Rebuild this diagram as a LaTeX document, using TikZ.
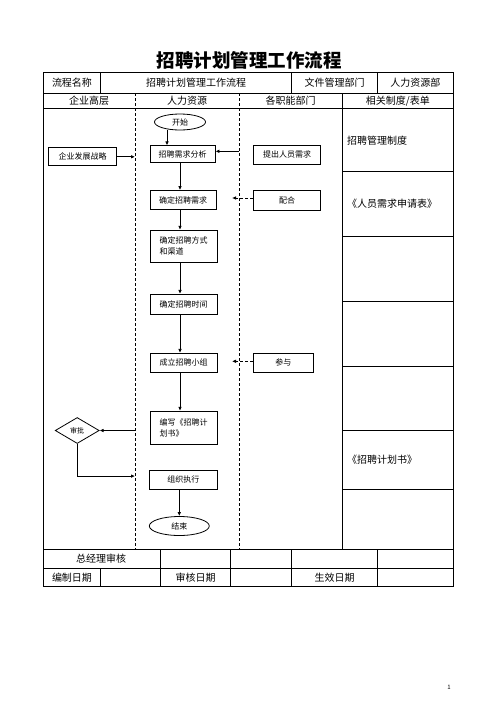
\documentclass[tikz,border=0pt]{standalone}
\usepackage{fontspec}
\setmainfont{Noto Sans CJK SC}
\usetikzlibrary{shapes.geometric,arrows.meta}
\tikzset{
	cell/.style={inner sep=0pt, font=\fontsize{10}{12}\selectfont},
	flowbox/.style={draw, line width=0.8pt, rectangle, inner sep=1pt, minimum width=67pt, minimum height=19pt, font=\fontsize{8}{11}\selectfont},
	flowend/.style={draw, line width=0.8pt, ellipse, inner sep=0pt, font=\fontsize{8}{10}\selectfont},
	checkbox/.style={draw, line width=0.8pt, diamond, inner sep=0pt, minimum width=44pt, minimum height=26pt, font=\fontsize{7}{9}\selectfont},
	arr/.style={line width=0.8pt, -{Latex[length=4pt,width=3.6pt]}},
	lane/.style={line width=0.8pt, dash pattern=on 3pt off 2pt},
	grid/.style={line width=0.9pt}
}
\begin{document}
\begin{tikzpicture}[x=1pt,y=-1pt]
	\useasboundingbox (0,0) rectangle (496,702);

	\node[inner sep=0pt, font=\fontsize{18.5}{20}\selectfont\bfseries] (title) at(249, 60){招聘计划管理工作流程};

		\draw[grid](43.3, 72.7) rectangle (453.3, 586);
		\draw[grid](43.3, 93.3) to (453.3, 93.3);
		\draw[grid](43.3, 108.5) to (453.3, 108.5);
		\draw[grid](43.3, 549.3) to (453.3, 549.3);
		\draw[grid](43.3, 568.3) to (453.3, 568.3);
			\draw[grid](100.7, 72.7) to (100.7, 93.3);
			\draw[grid](291.7, 72.7) to (291.7, 93.3);
			\draw[grid](377.3, 72.7) to (377.3, 93.3);
		\draw[lane](135, 93.3) to (135, 549.3);
		\draw[lane](239, 93.3) to (239, 549.3);
		\draw[grid](342.3, 93.3) to (342.3, 549.3);
			\draw[grid](342.3, 171.7) to (453.3, 171.7);
			\draw[grid](342.3, 236) to (453.3, 236);
			\draw[grid](342.3, 301) to (453.3, 301);
			\draw[grid](342.3, 366) to (453.3, 366);
			\draw[grid](342.3, 430.3) to (453.3, 430.3);
			\draw[grid](342.3, 489.3) to (453.3, 489.3);
			\draw[grid](160.7, 549.3) to (160.7, 586);
			\draw[grid](230.7, 549.3) to (230.7, 586);
			\draw[grid](291.7, 549.3) to (291.7, 586);
			\draw[grid](377.3, 549.3) to (377.3, 586);
			\draw[grid](100.7, 568.3) to (100.7, 586);

		\coordinate (laneA) at(135, 108.5);
		\coordinate (laneB) at(239, 108.5);
		\coordinate (cutB) at(232, 108.5);

		\node[cell] (name) at(72, 83){流程名称};
		\node[cell] (nameval) at(196.2, 83){招聘计划管理工作流程};
		\node[cell] (dept) at(334.5, 83){文件管理部门};
		\node[cell] (deptval) at(415.3, 83){人力资源部};

		\node[cell] (top) at(89, 101){企业高层};
		\node[cell] (hr) at(187, 101){人力资源};
		\node[cell] (func) at(290.7, 101){各职能部门};
		\node[cell] (docs) at(397.8, 101){相关制度/表单};

		\node[cell, anchor=west] (rule) at(347, 140.5){招聘管理制度};
		\node[cell, anchor=west] (form) at(347, 203.5){《人员需求申请表》};
		\node[cell, anchor=west] (plandoc) at(347, 460){《招聘计划书》};

		\node[cell] (boss) at(101, 559){总经理审核};
		\node[cell] (made) at(72, 577.5){编制日期};
		\node[cell] (checked) at(195.7, 577.5){审核日期};
		\node[cell] (valid) at(334.5, 577.5){生效日期};

		\node[flowend, minimum width=51pt, minimum height=16pt] (start) at(180, 122){开始};
		\node[flowbox, minimum width=65pt, minimum height=17pt] (analyse) at(182.5, 154.3){招聘需求分析};
		\node[flowbox, minimum width=66pt] (need) at(183, 200){确定招聘需求};
		\node[flowbox, minimum height=32pt, align=left] (way) at(183.7, 246.2){确定招聘方式\\和渠道};
		\node[flowbox, minimum height=20pt] (time) at(183.7, 304.3){确定招聘时间};
		\node[flowbox] (team) at(183.5, 362.8){成立招聘小组};
		\node[flowbox, minimum height=33pt, align=left] (plan) at(183.7, 427.7){编写《招聘计\\划书》};
		\node[flowbox, minimum width=68pt] (run) at(183.3, 479.7){组织执行};
		\node[flowend, minimum width=60pt, minimum height=19pt] (finish) at(179.3, 526){结束};

		\node[flowbox, minimum width=68pt, minimum height=18pt] (strategy) at(82.5, 156.8){企业发展战略};
		\node[flowbox] (ask) at(287, 154.5){提出人员需求};
		\node[flowbox, minimum height=20pt] (coop) at(287, 200){配合};
		\node[flowbox, minimum width=60pt] (join) at(283.3, 362.8){参与};
		\node[checkbox] (check) at(77.2, 430.5){审批};

		\draw[arr]([xshift=-13pt]start.south) to ([xshift=-13pt]start.south |- analyse.north);
		\draw[arr](analyse.south -| 180, 0) to (need.north -| 180, 0);
		\draw[arr](need.south -| 180, 0) to (way.north -| 180, 0);
		\draw[arr](way.south -| 180, 0) to (time.north -| 180, 0);
		\draw[arr](time.south -| 180, 0) to (team.north -| 180, 0);
		\draw[arr](team.south -| 180, 0) to (plan.north -| 180, 0);
		\draw[arr](run.south -| finish.north) to (finish.north);

		\draw[arr](strategy.east) to (strategy.east -| laneA);
		\draw[arr]([yshift=3pt]analyse.east -| laneB) to ([yshift=3pt]analyse.east);
		\draw[arr, dash pattern=on 3pt off 2pt]([yshift=2pt]coop.west) to ([yshift=2pt]coop.west -| cutB);
		\draw[arr, dash pattern=on 3pt off 2pt]([yshift=1.5pt]join.west) to ([yshift=1.5pt]join.west -| cutB);
		\draw[arr](check.east -| laneA) to (check.east);
		\draw[arr](check.south) |- ([yshift=3.6pt]run.west -| laneA);

		\node[inner sep=0pt, font=\fontsize{6}{7}\selectfont] (page) at(449, 687){1};
\end{tikzpicture}
\end{document}
